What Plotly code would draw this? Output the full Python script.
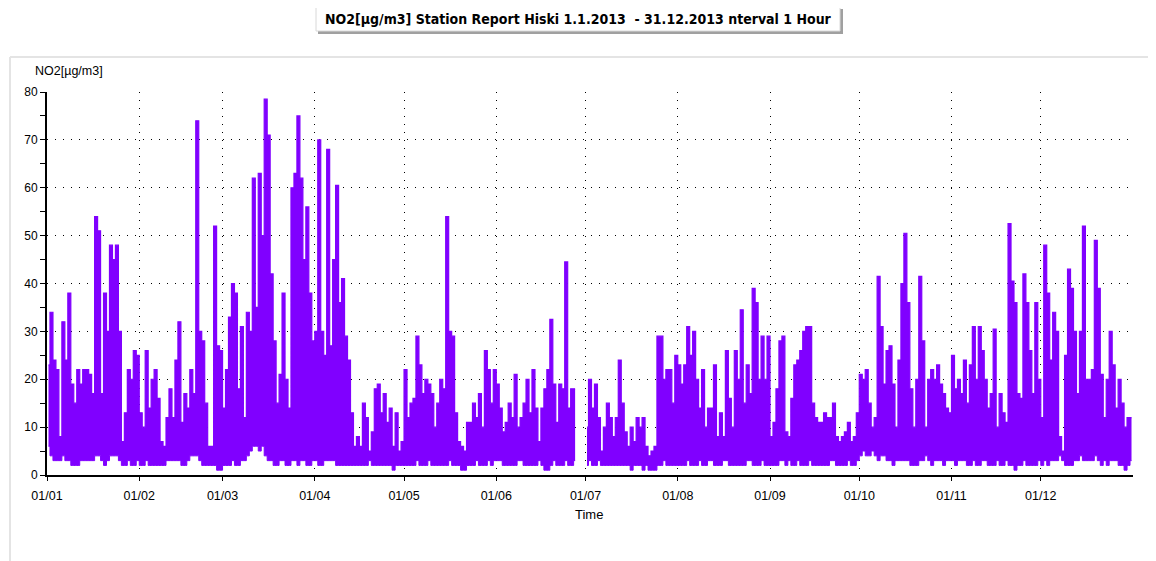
import pandas as pd
import plotly.graph_objects as go

# daily maxima, NO2 in µg/m3 (None = no data)
jan_max = [23, 34, 24, 22, 8, 32, 24, 38, 19, 15, 22, 19, 22, 22, 21, 17,
           54, 51, 17, 38, 30, 48, 45, 48, 30, 7, 13, 22, 20, 26, 25]
feb_max = [13, 10, 26, 14, 20, 22, 16, 7, 6, 12, 18, 12, 24, 32, 11, 17,
           14, 22, 17, 74, 30, 28, 15, 6, 6, 52, 27, 26]
mar_max = [14, 22, 33, 40, 38, 18, 31, 12, 34, 30, 62, 35, 63, 50, 78.5, 71,
           42, 28, 15, 21, 38, 20, 14, 60, 63, 75, 62, 45, 56, 38, 28]
apr_max = [30, 70, 30, 25, 68, 27, 45, 60.5, 36, 41, 29, 24, 13, 6, 8, 6,
           15, 12, 5, 9, 18, 19, 13, 17, 11, 14, 6, 13, 5, 7]
may_max = [22, 12, 15, 16, 29, 23, 17, 20, 19, 17, 10, 15, 20, 18, 54, 30,
           29, 13, 7, 6, 5, 11, 11, 15, 12, 17, 10, 26, 22, 15, 22]
jun_max = [19, 14, 9, 11, 15, 12, 21, 10, 12, 15, 20, 13, 22, 14, 7, 14,
           18, 22, 32.5, 19, 11, 19, 18, 44.5, 14, 18, 18, None, None, None]
jul_max = [10, 20, 14, 19, 12, 5, 10, 15, 12, 8, 12, 24, 15, 9, 6, 10,
           7, 12, 10, 12, 6, 4, 5, 6, 29, 29, 20, 22, 22, 15, 25]
aug_max = [23, 19, 23, 31, 25, 30, 20, 14, 22, 10, 14, 14, 23, 8, 13, 8,
           26, 16, 10, 26, 20, 34.5, 15, 23, 17, 39, 36, 20, 29, 20, 29]
sep_max = [8, 11, 18, 28, 29, 9, 8, 16, 23, 24, 26, 30, 31, 31, 15, 12,
           11, 11, 13, 12, 12, 15, 8, 7, 8, 9, 11, 7, 8, 13]
oct_max = [21, 20, 22, 15, 10, 12, 41.5, 31, 19, 26, 27, 19, 10, 24, 40, 50.5,
           36, 18, 10, 20, 41.5, 28, 10, 20, 22, 20, 23, 19, 17, 14, 13]
nov_max = [25, 18, 20, 17, 24, 15, 23, 31, 20, 31, 26, 20, 14, 17, 30.5, 10,
           17, 13, 11, 52.5, 40.5, 36, 17, 16, 42, 36, 26, 17, 36, 20]
dec_max = [12, 48, 38, 24, 34, 30, 8, 5, 25, 43, 39, 30, 17, 30, 52, 20,
           20, 22, 49, 39, 21, 12, 20, 30, 23, 14, 20, 15, 10, 12, 12]

# daily minima
jan_min = [6, 4, 3, 3, 3, 4, 3, 3, 2, 2, 2, 3, 3, 3, 3, 3,
           4, 4, 3, 2, 3, 4, 4, 4, 3, 2, 2, 3, 2, 2, 3]
feb_min = [2, 2, 3, 2, 2, 2, 2, 2, 2, 3, 3, 3, 3, 3, 2, 2,
           3, 4, 4, 4, 3, 2, 2, 2, 2, 2, 1, 1]
mar_min = [2, 2, 2, 3, 2, 2, 3, 3, 4, 5, 6, 6, 5, 6, 4, 3,
           3, 2, 2, 3, 3, 2, 2, 3, 3, 2, 3, 3, 2, 2, 3]
apr_min = [3, 2, 2, 3, 3, 3, 3, 2, 2, 2, 2, 2, 2, 2, 2, 2,
           2, 2, 3, 2, 2, 2, 2, 2, 2, 2, 1, 2, 2, 2]
may_min = [2, 2, 2, 2, 3, 2, 2, 2, 3, 2, 2, 2, 2, 2, 2, 3,
           2, 2, 2, 1, 1, 2, 2, 2, 3, 2, 2, 2, 3, 2, 3]
jun_min = [3, 3, 2, 2, 2, 2, 2, 3, 3, 2, 2, 2, 2, 2, 3, 2,
           1, 1, 2, 3, 2, 2, 2, 3, 2, 2, 3, None, None, None]
jul_min = [2, 3, 2, 2, 3, 2, 2, 2, 2, 2, 2, 2, 2, 2, 2, 1,
           2, 2, 2, 1, 2, 1, 1, 1, 2, 2, 3, 2, 2, 2, 2]
aug_min = [2, 2, 2, 3, 2, 2, 2, 3, 2, 2, 3, 3, 2, 2, 2, 3,
           3, 2, 2, 2, 2, 2, 2, 3, 3, 2, 2, 2, 3, 2, 2]
sep_min = [2, 2, 2, 3, 3, 2, 3, 2, 2, 3, 2, 2, 2, 3, 2, 2,
           2, 2, 2, 2, 3, 3, 2, 2, 2, 2, 3, 2, 2, 3]
oct_min = [4, 5, 4, 4, 5, 4, 3, 4, 4, 3, 3, 2, 3, 3, 3, 3,
           3, 2, 2, 2, 3, 3, 4, 3, 2, 3, 3, 3, 2, 3, 3]
nov_min = [3, 2, 3, 3, 3, 2, 2, 3, 2, 2, 3, 3, 2, 2, 2, 3,
           2, 2, 3, 2, 2, 1, 2, 2, 3, 2, 2, 2, 2, 3]
dec_min = [2, 3, 2, 3, 3, 3, 4, 3, 2, 2, 2, 3, 3, 4, 3, 3,
           3, 3, 4, 3, 2, 3, 2, 3, 3, 3, 2, 2, 1, 2, 3]

daily_max = (jan_max + feb_max + mar_max + apr_max + may_max + jun_max +
             jul_max + aug_max + sep_max + oct_max + nov_max + dec_max)
daily_min = (jan_min + feb_min + mar_min + apr_min + may_min + jun_min +
             jul_min + aug_min + sep_min + oct_min + nov_min + dec_min)

days = pd.date_range("2013-01-01", "2013-12-31", freq="D") + pd.Timedelta(hours=12)
month_ticks = pd.date_range("2013-01-01", "2013-12-01", freq="MS")
month_labels = [d.strftime("%d/%m") for d in month_ticks]

PURPLE = "#8000ff"

# the page body adds an 8px margin, so the figure is drawn 8px smaller
OFF = 8
W, H = 1156 - OFF, 561 - OFF
# plot area in screenshot pixels
L, R, T, B = 47, 1133, 92, 475


def px(v):
    return (v - L) / (R - L)


def py(v):
    return (B - v) / (B - T)


# split the year into runs of days that have data
segments, cur = [], []
for d, hi, lo in zip(days, daily_max, daily_min):
    if hi is None:
        if cur:
            segments.append(cur)
        cur = []
    else:
        cur.append((d, hi, lo))
if cur:
    segments.append(cur)

fig = go.Figure()
for seg in segments:
    sx = [s[0] for s in seg]
    fig.add_trace(go.Scatter(
        x=sx, y=[s[2] for s in seg], mode="lines",
        line=dict(color=PURPLE, width=1, shape="hvh"),
        hoverinfo="skip",
    ))
    fig.add_trace(go.Scatter(
        x=sx, y=[s[1] for s in seg], mode="lines",
        line=dict(color=PURPLE, width=1.2, shape="hvh"),
        fill="tonexty", fillcolor=PURPLE,
        hoverinfo="x+y",
    ))

shapes = [
    # chart panel
    dict(type="line", xref="paper", yref="paper", x0=px(10), x1=px(1150),
         y0=py(57), y1=py(57), line=dict(color="#e4e4e4", width=2)),
    dict(type="line", xref="paper", yref="paper", x0=px(10), x1=px(10),
         y0=py(57), y1=py(561), line=dict(color="#e4e4e4", width=2)),
    dict(type="line", xref="paper", yref="paper", x0=px(1150), x1=px(1150),
         y0=py(57), y1=py(561), line=dict(color="#b4b4b4", width=4)),
    # title box with shadow
    dict(type="rect", xref="paper", yref="paper", x0=px(318), x1=px(843),
         y0=py(9), y1=py(34), fillcolor="#a0a0a0", line=dict(width=0)),
    dict(type="rect", xref="paper", yref="paper", x0=px(316), x1=px(840),
         y0=py(7), y1=py(31), fillcolor="white",
         line=dict(color="#d8d8d8", width=1)),
]

annotations = [
    dict(text="<b>NO2[µg/m3] Station Report Hiski 1.1.2013 &nbsp;- 31.12.2013 nterval 1 Hour</b>",
         xref="paper", yref="paper", x=px(578), y=py(19),
         xanchor="center", yanchor="middle", showarrow=False,
         font=dict(family="Liberation Sans Narrow, DejaVu Sans Condensed, Arial Narrow",
                   size=14, color="black")),
    dict(text="NO2[µg/m3]", xref="paper", yref="paper", x=px(33), y=py(71),
         xanchor="left", yanchor="middle", showarrow=False,
         font=dict(family="Liberation Sans, Arial", size=12.5, color="black")),
    dict(text="Time", xref="paper", yref="paper", x=px(589), y=py(514),
         xanchor="center", yanchor="middle", showarrow=False,
         font=dict(family="Liberation Sans, Arial", size=13, color="black")),
]

fig.update_layout(
    width=W, height=H,
    margin=dict(l=L - OFF, r=W + OFF - R, t=T - OFF, b=H + OFF - B),
    paper_bgcolor="white", plot_bgcolor="white",
    showlegend=False,
    shapes=shapes,
    annotations=annotations,
    font=dict(family="Liberation Sans, Arial", size=12, color="black"),
)

fig.update_xaxes(
    type="date",
    range=["2013-01-01", "2014-01-01"],
    tickvals=month_ticks, ticktext=month_labels,
    showgrid=True, gridcolor="black", gridwidth=1, griddash="1px,7px",
    showline=True, linecolor="black", linewidth=2,
    ticks="outside", ticklen=4, tickcolor="black",
    ticklabelstandoff=4,
    zeroline=False,
    tickfont=dict(size=12.5),
)
fig.update_yaxes(
    range=[0, 80],
    tickvals=[0, 10, 20, 30, 40, 50, 60, 70, 80],
    showgrid=True, gridcolor="black", gridwidth=1, griddash="1px,7px",
    showline=True, linecolor="black", linewidth=2,
    ticks="outside", ticklen=5, tickcolor="black",
    minor=dict(dtick=5, ticks="outside", ticklen=5, tickcolor="black", showgrid=False),
    zeroline=False,
    tickfont=dict(size=12),
)

fig.write_html("out.html")
